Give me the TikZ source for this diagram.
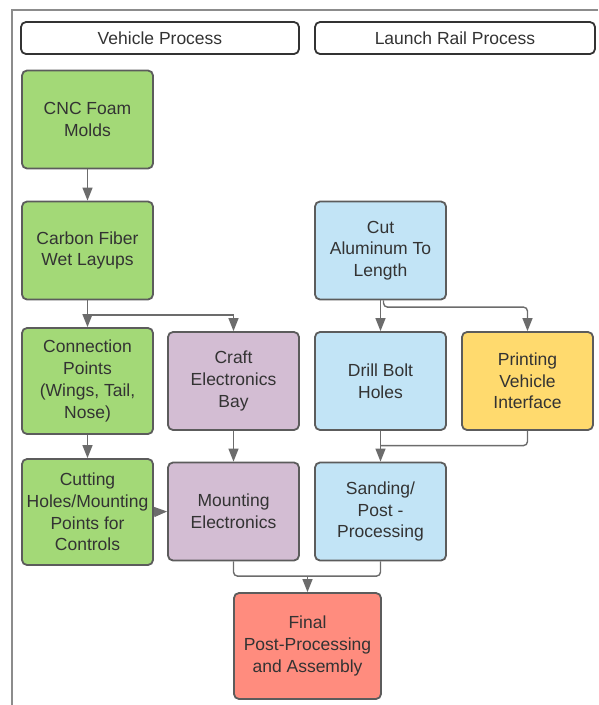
\documentclass[tikz,border=0pt]{standalone}
\usepackage{fontspec}
\setmainfont{Liberation Sans}
\usetikzlibrary{arrows.meta}
\definecolor{boxgreen}{HTML}{A3D977}
\definecolor{boxpurple}{HTML}{D3BDD3}
\definecolor{boxblue}{HTML}{C2E4F6}
\definecolor{boxyellow}{HTML}{FFDA6E}
\definecolor{boxred}{HTML}{FF8C7E}
\definecolor{edgegrey}{HTML}{5C5C5C}
\definecolor{txtgrey}{HTML}{333333}

\tikzset{
  procbox/.style={draw=edgegrey, line width=1.8pt, rounded corners=5pt,
                  minimum width=131pt, minimum height=98pt, align=center,
                  text=txtgrey, font=\fontsize{17.5}{21.7}\selectfont},
  header/.style={draw=black!80, line width=1.8pt, rounded corners=5pt,
                 minimum height=32pt, text=txtgrey,
                 font=\fontsize{17.5}{21}\selectfont},
  link/.style={draw=edgegrey!90, line width=1.4pt},
  elbow/.style={rounded corners=4pt},
  arr/.style={link, -{Triangle[length=13pt,width=10pt,sharp]}}
}

\begin{document}
\begin{tikzpicture}[x=1pt, y=-1pt]
    \useasboundingbox (0,0) rectangle (598,705);
    % outer frame
    \draw[gray!90, line width=1.2pt] (598,10) -- (12,10) -- (12,705);

    % column headers
    \node[header, minimum width=278pt] (hdveh) at (160,38) {Vehicle Process};
    \node[header, minimum width=280pt] (hdrail) at (455,38) {Launch Rail Process};

    % vehicle side
    \node[procbox, fill=boxgreen] (cnc) at (87.5,119.5) {CNC Foam\\Molds};
    \node[procbox, fill=boxgreen] (layup) at (87.5,250.5) {Carbon Fiber\\Wet Layups};
    \node[procbox, fill=boxgreen, minimum height=106pt] (conn) at (87.5,381)
        {Connection\\Points\\(Wings, Tail,\\Nose)};
    \node[procbox, fill=boxpurple] (craft) at (233.5,381) {Craft\\Electronics\\Bay};
    \node[procbox, fill=boxgreen, minimum height=106pt, inner xsep=0pt] (cutctl) at (87.5,512)
        {Cutting\\Holes/Mounting\\Points for\\Controls};
    \node[procbox, fill=boxpurple] (mount) at (233.5,511.5) {Mounting\\Electronics};

    % launch rail side
    \node[procbox, fill=boxblue] (cutal) at (380.5,250.5) {Cut\\Aluminum To\\Length};
    \node[procbox, fill=boxblue] (drill) at (380.5,381) {Drill Bolt\\Holes};
    \node[procbox, fill=boxyellow] (print) at (527.5,381) {Printing\\Vehicle\\Interface};
    \node[procbox, fill=boxblue] (sand) at (380.5,511.5) {Sanding/\\Post -\\Processing};

    % final step
    \node[procbox, fill=boxred, minimum width=147pt, minimum height=106pt] (final) at (307.5,646)
        {Final\\Post-Processing\\and Assembly};

    % connectors
    \draw[arr] (cnc) -- (layup);
    \draw[arr] (layup) -- (conn);
    \draw[arr] (layup.south) |- ([yshift=16pt]craft.north) -- (craft.north);
    \draw[arr] (conn) -- (cutctl);
    \draw[arr] (craft) -- (mount);
    \draw[arr] (cutctl.east) -- (mount.west);

    \draw[arr] (cutal) -- (drill);
    \draw[arr, elbow] ([xshift=3pt]cutal.south) |- ([yshift=24pt]print.north) -- (print.north);
    \draw[arr] (drill) -- (sand);
    \draw[link, elbow] (print.south) |- ([yshift=16pt]sand.north);

    \coordinate (join) at ([yshift=16pt]final.north);
    \draw[link, elbow] (mount.south) |- (join) -| (sand.south);
    \draw[arr] (join) -- (final.north);
  \end{tikzpicture}
\end{document}
